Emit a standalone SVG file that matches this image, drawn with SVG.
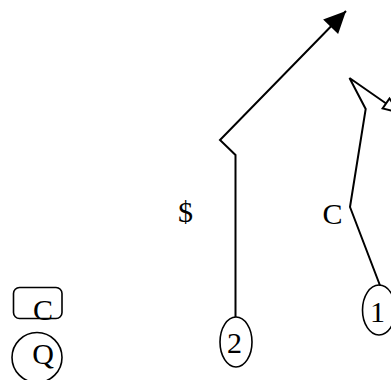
<svg xmlns="http://www.w3.org/2000/svg" width="391" height="380" viewBox="0 0 391 380">
  <style>
    .shape { fill: none; stroke: #000; stroke-width: 1.6; }
    .edge { fill: none; stroke: #000; stroke-width: 2; stroke-linejoin: miter; }
    .lbl { font-family: "Liberation Serif", "Times New Roman", serif; font-size: 30px; fill: #000; }
  </style>
  <defs>
    <marker id="arrowFilled" markerUnits="userSpaceOnUse" markerWidth="24" markerHeight="23" refX="22" refY="10.5" orient="auto" overflow="visible">
      <path d="M0,0 L22,10.5 L0,21 z" fill="#000"/>
    </marker>
    <marker id="arrowOpen" markerUnits="userSpaceOnUse" markerWidth="18" markerHeight="14" refX="16" refY="6" orient="auto" overflow="visible">
      <path d="M0,0 L16,6 L0,12 z" fill="#fff" stroke="#000" stroke-width="2"/>
    </marker>
  </defs>
  <g id="connectors">
    <path class="edge" d="M235.5,317 L235.5,155 L220,140 L346,11" marker-end="url(#arrowFilled)"/>
    <path class="edge" d="M380,285.5 L350,207 L365.7,109 L349.5,78 L399.2,112.6" marker-end="url(#arrowOpen)"/>
    <text class="lbl" x="185.5" y="222" text-anchor="middle">$</text>
    <text class="lbl" x="332.5" y="224" text-anchor="middle">C</text>
  </g>
  <g id="node-2">
    <ellipse class="shape" cx="236" cy="342" rx="16" ry="25"/>
    <text class="lbl" x="234.5" y="353" text-anchor="middle">2</text>
  </g>
  <g id="node-1">
    <ellipse class="shape" cx="379" cy="310" rx="16.5" ry="25"/>
    <text class="lbl" x="377.5" y="322" text-anchor="middle">1</text>
  </g>
  <g id="node-C">
    <rect class="shape" x="13.5" y="287.5" width="48.5" height="31" rx="6" ry="6"/>
    <text class="lbl" x="43" y="320" text-anchor="middle">C</text>
  </g>
  <g id="node-Q">
    <circle class="shape" cx="37" cy="357.5" r="25"/>
    <text class="lbl" x="43" y="364" text-anchor="middle">Q</text>
  </g>
</svg>
